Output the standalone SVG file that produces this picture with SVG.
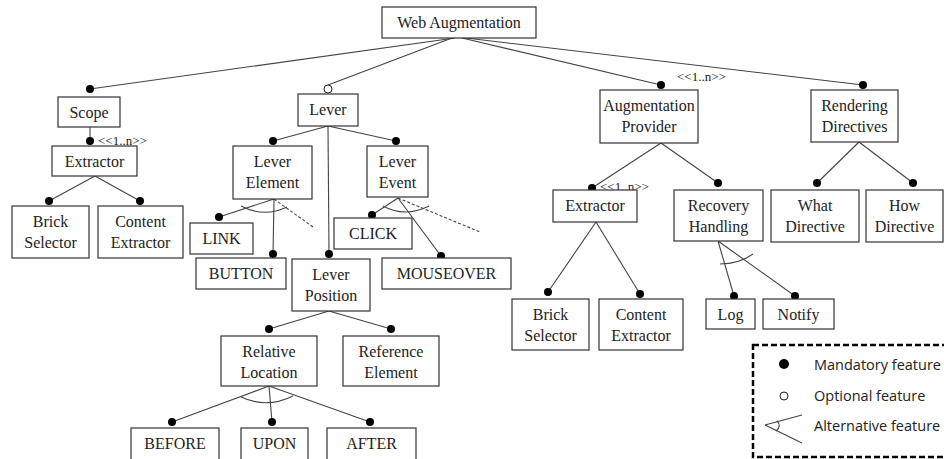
<svg xmlns="http://www.w3.org/2000/svg" width="944" height="459" viewBox="0 0 944 459">
<style>
  .box { fill: #fff; stroke: #333; stroke-width: 1.2; }
  .t { font-family: "Liberation Serif", "Times New Roman", serif; font-size: 16px; fill: #222; text-anchor: middle; }
  .card { font-family: "Liberation Serif", "Times New Roman", serif; font-size: 13px; fill: #222; }
  .edge { stroke: #444; stroke-width: 1.1; fill: none; }
  .dash { stroke: #444; stroke-width: 1.1; stroke-dasharray: 3,2; fill: none; }
  .dot { fill: #000; }
  .odot { fill: #fff; stroke: #222; stroke-width: 1; }
  .leg { font-family: "Open Sans", "Liberation Sans", sans-serif; font-size: 14.5px; fill: #222; }
</style>
<rect width="944" height="459" fill="#fff"/>

<!-- connectors -->
<g id="connectors">
  <line class="edge" x1="455" y1="38" x2="90" y2="89"/>
  <line class="edge" x1="452" y1="38" x2="328" y2="85"/>
  <line class="edge" x1="462" y1="38" x2="661" y2="85"/>
  <line class="edge" x1="466" y1="38" x2="863" y2="85"/>
  <line class="edge" x1="90" y1="127" x2="90" y2="141"/>
  <line class="edge" x1="95" y1="176" x2="49" y2="201"/>
  <line class="edge" x1="95" y1="176" x2="140" y2="201"/>
  <line class="edge" x1="328" y1="126" x2="273" y2="141"/>
  <line class="edge" x1="328" y1="126" x2="396" y2="141"/>
  <line class="edge" x1="328" y1="126" x2="329" y2="254"/>
  <line class="edge" x1="274" y1="199" x2="219" y2="217"/>
  <line class="edge" x1="274" y1="199" x2="273" y2="254"/>
  <line class="dash" x1="274" y1="199" x2="313" y2="227"/>
  <path class="edge" d="M241,206 Q264,218 287,207"/>
  <line class="edge" x1="398" y1="198" x2="372" y2="215"/>
  <line class="edge" x1="398" y1="198" x2="441" y2="256"/>
  <line class="dash" x1="398" y1="198" x2="480" y2="232"/>
  <path class="edge" d="M383,206 Q405,218 429,206"/>
  <line class="edge" x1="329" y1="311" x2="269" y2="329"/>
  <line class="edge" x1="329" y1="311" x2="391" y2="329"/>
  <line class="edge" x1="269" y1="386" x2="172" y2="422"/>
  <line class="edge" x1="269" y1="386" x2="272" y2="422"/>
  <line class="edge" x1="269" y1="386" x2="370" y2="422"/>
  <path class="edge" d="M241,397 Q267,409 293,396"/>
  <line class="edge" x1="661" y1="143" x2="592" y2="188"/>
  <line class="edge" x1="661" y1="143" x2="718" y2="183"/>
  <line class="edge" x1="859" y1="142" x2="817" y2="183"/>
  <line class="edge" x1="859" y1="142" x2="913" y2="183"/>
  <line class="edge" x1="596" y1="222" x2="548" y2="292"/>
  <line class="edge" x1="596" y1="222" x2="640" y2="294"/>
  <line class="edge" x1="718" y1="241" x2="734" y2="296"/>
  <line class="edge" x1="718" y1="241" x2="795" y2="296"/>
  <path class="edge" d="M720,264 Q739,264 753,254"/>

  <!-- feature markers -->
  <circle class="dot" cx="90" cy="89" r="4"/>
  <circle class="odot" cx="328" cy="89" r="4"/>
  <circle class="dot" cx="661" cy="85" r="4"/>
  <circle class="dot" cx="863" cy="85" r="4"/>
  <circle class="dot" cx="90" cy="141" r="4"/>
  <circle class="dot" cx="49" cy="201" r="4"/>
  <circle class="dot" cx="140" cy="201" r="4"/>
  <circle class="dot" cx="273" cy="141" r="4"/>
  <circle class="dot" cx="396" cy="141" r="4"/>
  <circle class="dot" cx="219" cy="217" r="4"/>
  <circle class="dot" cx="273" cy="254" r="4"/>
  <circle class="dot" cx="329" cy="254" r="4"/>
  <circle class="dot" cx="372" cy="215" r="4"/>
  <circle class="dot" cx="441" cy="256" r="4"/>
  <circle class="dot" cx="269" cy="329" r="4"/>
  <circle class="dot" cx="391" cy="329" r="4"/>
  <circle class="dot" cx="172" cy="422" r="4"/>
  <circle class="dot" cx="272" cy="422" r="4"/>
  <circle class="dot" cx="370" cy="422" r="4"/>
  <circle class="dot" cx="592" cy="188" r="4"/>
  <circle class="dot" cx="718" cy="183" r="4"/>
  <circle class="dot" cx="817" cy="183" r="4"/>
  <circle class="dot" cx="913" cy="183" r="4"/>
  <circle class="dot" cx="548" cy="292" r="4"/>
  <circle class="dot" cx="640" cy="294" r="4"/>
  <circle class="dot" cx="734" cy="296" r="4"/>
  <circle class="dot" cx="795" cy="296" r="4"/>

  <!-- group cardinalities -->
  <text class="card" x="98" y="145">&lt;&lt;1..n&gt;&gt;</text>
  <text class="card" x="677" y="81">&lt;&lt;1..n&gt;&gt;</text>
  <text class="card" x="600" y="191">&lt;&lt;1..n&gt;&gt;</text>
</g>

<!-- features -->
<g id="web-augmentation"><rect class="box" x="382" y="7" width="154" height="31"/><text class="t" x="459" y="28">Web Augmentation</text></g>
<g id="scope"><rect class="box" x="58" y="97" width="62" height="30"/><text class="t" x="89" y="118">Scope</text></g>
<g id="extractor-1"><rect class="box" x="52" y="146" width="85" height="30"/><text class="t" x="94.5" y="167">Extractor</text></g>
<g id="brick-selector-1"><rect class="box" x="12" y="206" width="77" height="52"/><text class="t" x="50.5" y="227">Brick</text><text class="t" x="50.5" y="248">Selector</text></g>
<g id="content-extractor-1"><rect class="box" x="98" y="206" width="85" height="52"/><text class="t" x="140.5" y="227">Content</text><text class="t" x="140.5" y="248">Extractor</text></g>

<g id="lever"><rect class="box" x="298" y="94" width="60" height="32"/><text class="t" x="328" y="115">Lever</text></g>
<g id="lever-element"><rect class="box" x="233" y="146" width="79" height="53"/><text class="t" x="272.5" y="167">Lever</text><text class="t" x="272.5" y="188">Element</text></g>
<g id="lever-event"><rect class="box" x="367" y="146" width="61" height="51"/><text class="t" x="397.5" y="167">Lever</text><text class="t" x="397.5" y="188">Event</text></g>
<g id="link"><rect class="box" x="190" y="223" width="63" height="31"/><text class="t" x="221.5" y="244">LINK</text></g>
<g id="button"><rect class="box" x="196" y="258" width="90" height="31"/><text class="t" x="241" y="279">BUTTON</text></g>
<g id="click"><rect class="box" x="334" y="218" width="78" height="31"/><text class="t" x="373" y="239">CLICK</text></g>
<g id="mouseover"><rect class="box" x="382" y="258" width="129" height="31"/><text class="t" x="446.5" y="279">MOUSEOVER</text></g>
<g id="lever-position"><rect class="box" x="292" y="259" width="78" height="52"/><text class="t" x="331" y="280">Lever</text><text class="t" x="331" y="301">Position</text></g>
<g id="relative-location"><rect class="box" x="221" y="336" width="96" height="50"/><text class="t" x="269" y="357">Relative</text><text class="t" x="269" y="378">Location</text></g>
<g id="reference-element"><rect class="box" x="343" y="336" width="96" height="50"/><text class="t" x="391" y="357">Reference</text><text class="t" x="391" y="378">Element</text></g>
<g id="before"><rect class="box" x="131" y="428" width="88" height="40"/><text class="t" x="175" y="449">BEFORE</text></g>
<g id="upon"><rect class="box" x="241" y="428" width="67" height="40"/><text class="t" x="274.5" y="449">UPON</text></g>
<g id="after"><rect class="box" x="327" y="428" width="89" height="40"/><text class="t" x="371.5" y="449">AFTER</text></g>

<g id="augmentation-provider"><rect class="box" x="600" y="90" width="98" height="53"/><text class="t" x="649" y="111">Augmentation</text><text class="t" x="649" y="132">Provider</text></g>
<g id="rendering-directives"><rect class="box" x="811" y="90" width="87" height="52"/><text class="t" x="854.5" y="111">Rendering</text><text class="t" x="854.5" y="132">Directives</text></g>
<g id="extractor-2"><rect class="box" x="553" y="190" width="84" height="32"/><text class="t" x="595" y="211">Extractor</text></g>
<g id="recovery-handling"><rect class="box" x="674" y="190" width="89" height="51"/><text class="t" x="718.5" y="211">Recovery</text><text class="t" x="718.5" y="232">Handling</text></g>
<g id="what-directive"><rect class="box" x="771" y="190" width="88" height="52"/><text class="t" x="815" y="211">What</text><text class="t" x="815" y="232">Directive</text></g>
<g id="how-directive"><rect class="box" x="866" y="190" width="77" height="52"/><text class="t" x="904.5" y="211">How</text><text class="t" x="904.5" y="232">Directive</text></g>
<g id="brick-selector-2"><rect class="box" x="512" y="299" width="77" height="51"/><text class="t" x="550.5" y="320">Brick</text><text class="t" x="550.5" y="341">Selector</text></g>
<g id="content-extractor-2"><rect class="box" x="599" y="299" width="84" height="51"/><text class="t" x="641" y="320">Content</text><text class="t" x="641" y="341">Extractor</text></g>
<g id="log"><rect class="box" x="706" y="299" width="49" height="30"/><text class="t" x="730.5" y="320">Log</text></g>
<g id="notify"><rect class="box" x="763" y="299" width="71" height="30"/><text class="t" x="798.5" y="320">Notify</text></g>

<!-- legend -->
<g id="legend">
  <rect x="753" y="345" width="210" height="112" fill="#fff" stroke="#000" stroke-width="2.5" stroke-dasharray="6,3"/>
  <circle cx="784" cy="364" r="5" fill="#000"/>
  <text class="leg" x="814" y="370">Mandatory feature</text>
  <circle cx="784" cy="396" r="4" fill="#fff" stroke="#222" stroke-width="1"/>
  <text class="leg" x="814" y="401">Optional feature</text>
  <line class="edge" x1="765" y1="425" x2="802" y2="415"/>
  <line class="edge" x1="765" y1="425" x2="802" y2="443"/>
  <path class="edge" d="M777,421 Q782,426 776,431"/>
  <text class="leg" x="814" y="431">Alternative feature</text>
</g>
</svg>
